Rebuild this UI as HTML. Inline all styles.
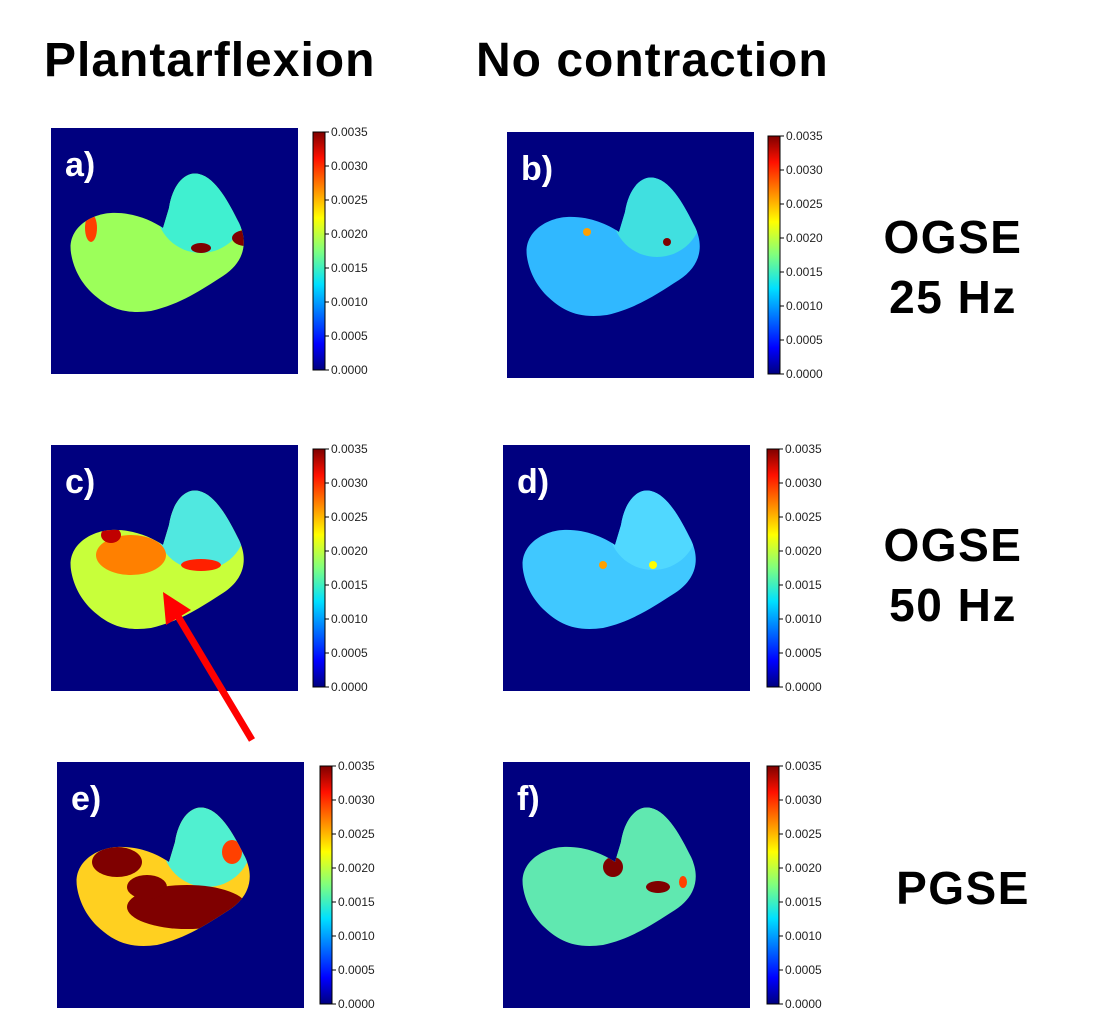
<!DOCTYPE html>
<html><head><meta charset="utf-8">
<style>
body{margin:0;width:1118px;height:1035px;background:#fff;position:relative;overflow:hidden;font-family:"Liberation Sans",Arial,sans-serif}
.h{position:absolute;font-weight:bold;font-size:48px;letter-spacing:1px;color:#000;white-space:nowrap}
.r{position:absolute;font-weight:bold;font-size:46px;letter-spacing:1.5px;color:#000;text-align:center;width:220px;line-height:60px}
</style></head><body>
<div class="h" style="left:44px;top:33px">Plantarflexion</div>
<div class="h" style="left:476px;top:33px">No contraction</div>
<div class="r" style="left:843px;top:207px">OGSE<br>25 Hz</div>
<div class="r" style="left:843px;top:515px">OGSE<br>50 Hz</div>
<div class="r" style="left:853px;top:858px">PGSE</div>
<svg id="main" width="1118" height="1035" style="position:absolute;left:0;top:0">
<defs>
<linearGradient id="jet" x1="0" y1="1" x2="0" y2="0">
<stop offset="0" stop-color="#00007f"/><stop offset="0.11" stop-color="#0000ff"/><stop offset="0.36" stop-color="#00e0ff"/><stop offset="0.5" stop-color="#7fff7f"/><stop offset="0.64" stop-color="#ffff00"/><stop offset="0.89" stop-color="#ff1000"/><stop offset="1" stop-color="#7f0000"/>
</linearGradient>
</defs>
</svg>
<script>
const ticks=["0.0000","0.0005","0.0010","0.0015","0.0020","0.0025","0.0030","0.0035"];
const panelLabels=["a)","b)","c)","d)","e)","f)"];
const panelX=[51,507,51,503,57,503];
const panelY=[128,132,445,445,762,762];
const barX=[313,768,313,767,320,767];
const baseFill=["#9cff5a","#30b8ff","#c8ff3a","#40c8ff","#ffd020","#60e8b0"];
const lobeFill=["#40f0d0","#40e0e0","#50e8e0","#50d8ff","#50f0d0","#60e8b0"];
const hotSpots=[
 [[195,110,14,8,"#7f0000"],[40,100,6,14,"#ff4000"],[150,120,10,5,"#7f0000"]],
 [[160,110,4,4,"#7f0000"],[80,100,4,4,"#ffa000"]],
 [[80,110,35,20,"#ff8000"],[150,120,20,6,"#ff2000"],[60,90,10,8,"#c00000"]],
 [[150,120,4,4,"#ffff00"],[100,120,4,4,"#ffa000"]],
 [[130,145,60,22,"#7f0000"],[60,100,25,15,"#7f0000"],[90,125,20,12,"#7f0000"],[175,90,10,12,"#ff4000"]],
 [[110,105,10,10,"#7f0000"],[155,125,12,6,"#7f0000"],[180,120,4,6,"#ff4000"]]
];
const svg=document.getElementById('main');
const NS='http://www.w3.org/2000/svg';
const shape="M20,125 C16,100 40,86 60,85 C82,84 100,92 112,100 L118,80 C122,55 135,43 148,46 C165,50 178,75 188,95 C198,116 192,135 172,148 C150,162 130,176 100,183 C70,187 55,178 40,164 C28,152 22,138 20,125 Z";
panelX.forEach((px,i)=>{
 const py=panelY[i];
 const g=document.createElementNS(NS,'g');
 g.setAttribute('transform',`translate(${px},${py})`);
 
 
 g.innerHTML=`<clipPath id="c${i}"><path d="${shape}"/></clipPath>
 <rect width="247" height="246" fill="#00007f"/>
 <path d="${shape}" fill="${baseFill[i]}"/>
 <g clip-path="url(#c${i})"><ellipse cx="150" cy="80" rx="45" ry="45" fill="${lobeFill[i]}"/>
 ${hotSpots[i].map(s=>`<ellipse cx="${s[0]}" cy="${s[1]}" rx="${s[2]}" ry="${s[3]}" fill="${s[4]}"/>`).join('')}</g>
 <text x="14" y="48" font-size="34" font-weight="bold" fill="#fff" font-family="Liberation Sans, sans-serif">${panelLabels[i]}</text>`;
 svg.appendChild(g);
 const cb=document.createElementNS(NS,'g');
 
 
 const bx=barX[i], top=py+4, h=238;
 let s=`<rect x="${bx}" y="${top}" width="12" height="${h}" fill="url(#jet)" stroke="#000" stroke-width="1"/>`;
 ticks.forEach((t,k)=>{const y=top+h-k*h/(ticks.length-1);
  s+=`<line x1="${bx+12}" x2="${bx+16}" y1="${y}" y2="${y}" stroke="#000"/><text x="${bx+18}" y="${y+4}" font-size="12" fill="#222" font-family="Liberation Sans, sans-serif">${t}</text>`;});
 cb.innerHTML=s;
 svg.appendChild(cb);
});
const ar=document.createElementNS(NS,'g');


ar.innerHTML='<line x1="252" y1="740" x2="176" y2="613" stroke="#ff0000" stroke-width="7"/><polygon points="163,592 166,625 191,610" fill="#ff0000"/>';
svg.appendChild(ar);
</script>
</body></html>
